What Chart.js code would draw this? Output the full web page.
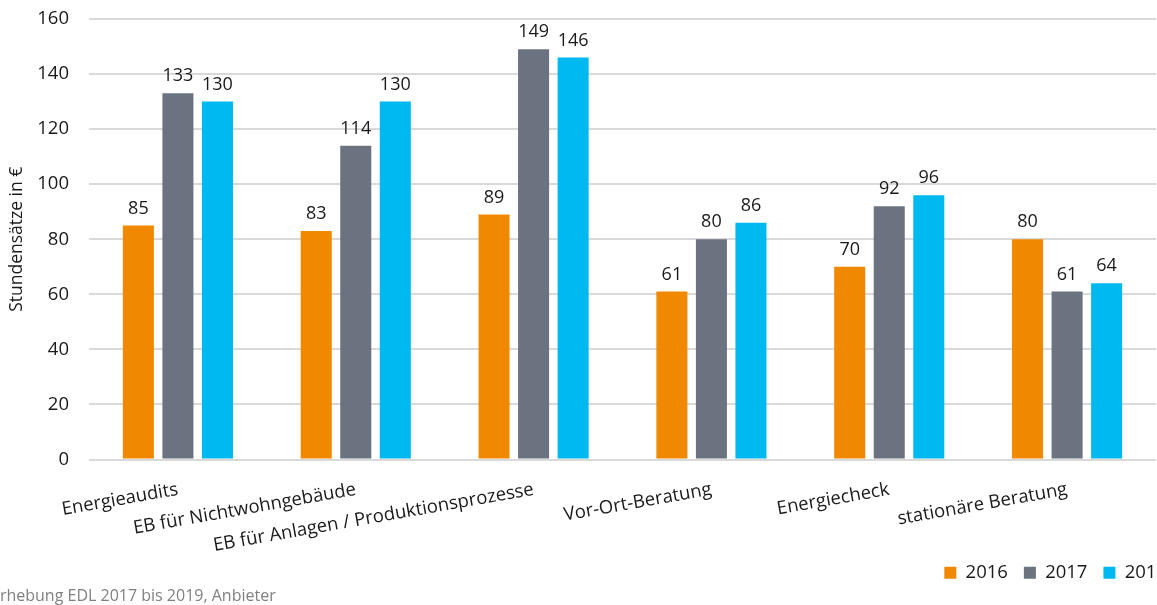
<!DOCTYPE html>
<html>
<head>
<meta charset="utf-8">
<script src="https://cdn.jsdelivr.net/npm/chart.js@4"></script>
<style>
  html, body { margin: 0; padding: 0; background: #fff; }
  #wrap { position: relative; width: 1157px; height: 605px; overflow: hidden; }
  #quelle {
    position: absolute; left: -9px; top: 584px;
    font: 16px "Open Sans", sans-serif; color: #808080; white-space: nowrap;
  }
</style>
</head>
<body>
<div id="wrap">
  <canvas id="stundenChart" width="1157" height="605"></canvas>
  <div id="quelle">Erhebung EDL 2017 bis 2019, Anbieter</div>
</div>
<script>
// Kategorien und Werte
const kategorien = [
  'Energieaudits',
  'EB für Nichtwohngebäude',
  'EB für Anlagen / Produktionsprozesse',
  'Vor-Ort-Beratung',
  'Energiecheck',
  'stationäre Beratung'
];
const jahre     = ['2016', '2017', '2018'];
const werte2016 = [85, 83, 89, 61, 70, 80];
const werte2017 = [133, 114, 149, 80, 92, 61];
const werte2018 = [130, 130, 146, 86, 96, 64];
const yTicks    = [0, 20, 40, 60, 80, 100, 120, 140, 160];

const farben = ['#F08800', '#6B7380', '#00B9F0'];
const schrift = '"Open Sans", sans-serif';

// Werte über die Balken schreiben
const wertLabels = {
  id: 'wertLabels',
  afterDatasetsDraw(chart) {
    const { ctx } = chart;
    ctx.save();
    ctx.font = '18px ' + schrift;
    ctx.fillStyle = '#1a1a1a';
    ctx.textAlign = 'center';
    ctx.textBaseline = 'bottom';
    chart.data.datasets.forEach((ds, i) => {
      const meta = chart.getDatasetMeta(i);
      meta.data.forEach((bar, j) => {
        ctx.fillText(ds.data[j], bar.x, bar.y - 8);
      });
    });
    ctx.restore();
  }
};

// Legende nach rechts schieben (läuft über den Rand),
// x-Achse nach unten verlängern, damit lange Beschriftungen nicht abgeschnitten werden
const layoutAnpassen = {
  id: 'layoutAnpassen',
  afterLayout(chart) {
    chart.legend.left += 27;
    chart.legend.right += 27;
    chart.scales.x.bottom += 40;
  }
};

const ctx = document.getElementById('stundenChart').getContext('2d');
new Chart(ctx, {
  type: 'bar',
  data: {
    labels: kategorien,
    datasets: [
      { label: jahre[0], data: werte2016, backgroundColor: farben[0] },
      { label: jahre[1], data: werte2017, backgroundColor: farben[1] },
      { label: jahre[2], data: werte2018, backgroundColor: farben[2] }
    ]
  },
  options: {
    responsive: false,
    animation: false,
    categoryPercentage: 0.667,
    barPercentage: 0.785,
    layout: { padding: { top: 19, right: 1, bottom: 13, left: 0 } },
    scales: {
      x: {
        grid: { display: false },
        border: { display: false },
        ticks: {
          font: { family: schrift, size: 18.5 },
          color: '#1a1a1a',
          minRotation: 10,
          maxRotation: 10,
          padding: 11,
          autoSkip: false
        },
        afterFit(scale) { scale.height = 88; }
      },
      y: {
        min: 0,
        max: 160,
        afterBuildTicks(scale) { scale.ticks = yTicks.map(v => ({ value: v })); },
        grid: { color: '#D9D9D9', lineWidth: 2, drawTicks: false },
        border: { display: false },
        ticks: {
          font: { family: schrift, size: 18.5 },
          color: '#1a1a1a',
          padding: 20
        },
        title: {
          display: true,
          text: 'Stundensätze in €',
          font: { family: schrift, size: 17.5 },
          color: '#1a1a1a',
          padding: { top: 7, bottom: 0 }
        },
        afterFit(scale) {
          scale.width = 89;
          scale.paddingTop = 0;
          scale.paddingBottom = 0;
        }
      }
    },
    plugins: {
      legend: {
        position: 'bottom',
        align: 'end',
        labels: {
          boxWidth: 12,
          boxHeight: 12,
          padding: 16,
          color: '#1a1a1a',
          font: { family: schrift, size: 18.5 }
        }
      },
      tooltip: { enabled: false }
    }
  },
  plugins: [wertLabels, layoutAnpassen]
});
</script>
</body>
</html>
